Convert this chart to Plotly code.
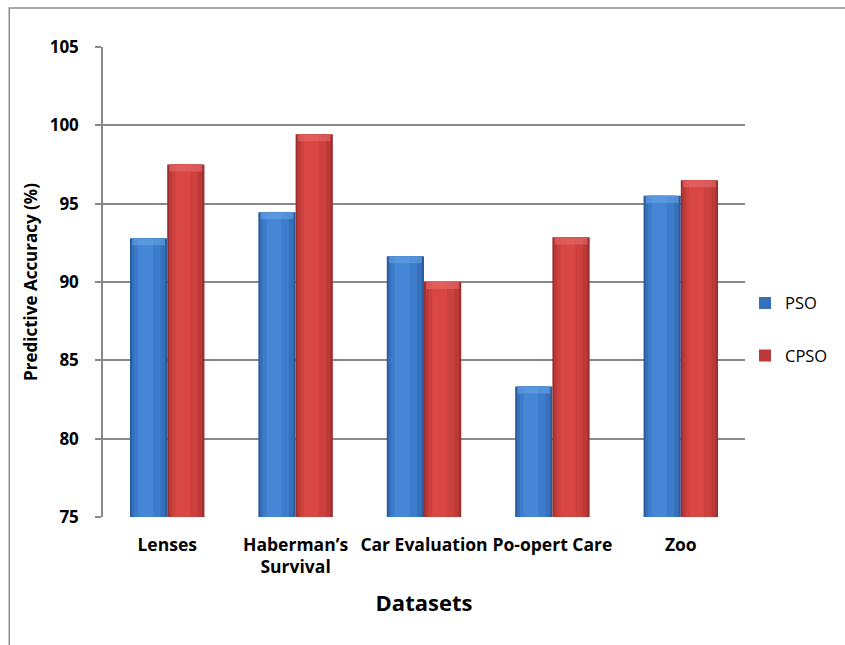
import plotly.graph_objects as go

# Predictive accuracy (%) of PSO and CPSO on five datasets
datasets = ["Lenses", "Haberman’s<br>Survival", "Car Evaluation", "Po-opert Care", "Zoo"]
pso = [92.8, 94.45, 91.65, 83.33, 95.5]
cpso = [97.5, 99.43, 90.0, 92.85, 96.5]
y_ticks = [75, 80, 85, 90, 95, 100, 105]

FONT = "Open Sans"
xpos = list(range(len(datasets)))
BAR_W = 0.29

# shading layers per series: (left inset, right inset, colour), dark edges to light centre
series = [
    ("PSO", pso, -BAR_W, "legend",
     [(0.0, 0.0, "#2b5c9e"), (0.05, 0.06, "#3570bb"), (0.12, 0.18, "#3d7cca"), (0.22, 0.38, "#4586d6")],
     "#6aa6e6"),
    ("CPSO", cpso, 0.0, "legend2",
     [(0.0, 0.0, "#9c2f2f"), (0.05, 0.06, "#bb3a38"), (0.12, 0.18, "#cc403e"), (0.22, 0.38, "#d84743")],
     "#ea7070"),
]

fig = go.Figure()
for name, vals, off, leg, layers, bevel in series:
    for k, (li, ri, col) in enumerate(layers):
        fig.add_trace(go.Bar(
            x=xpos, y=[v - 75 for v in vals], base=75,
            offset=off + BAR_W * li, width=BAR_W * (1 - li - ri),
            marker=dict(color=col, line=dict(width=0)),
            name=name, legend=leg, showlegend=(k == 1),
            hoverinfo="skip" if k else "y",
        ))
    # light bevel cap on top of each bar
    fig.add_trace(go.Bar(
        x=xpos, y=[0.45] * len(vals), base=[v - 0.45 for v in vals],
        offset=off + BAR_W * 0.06, width=BAR_W * 0.88,
        marker=dict(color=bevel, line=dict(width=0), opacity=0.55),
        showlegend=False, hoverinfo="skip",
    ))

grid = "#898989"
fig.update_layout(
    width=845, height=645,
    barmode="overlay",
    paper_bgcolor="white", plot_bgcolor="white",
    margin=dict(l=103, r=98, t=47, b=128),
    font=dict(family=FONT, color="black"),
    xaxis=dict(
        range=[-0.5, 4.5], tickvals=xpos, ticktext=datasets,
        showgrid=False, zeroline=False, showline=False, ticks="",
        tickfont=dict(family=FONT, size=17.5, color="black", weight="bold"),
        ticklabelstandoff=15,
        title=dict(text="Datasets", font=dict(family=FONT, size=22, color="black", weight="bold"),
                   standoff=18),
    ),
    yaxis=dict(
        range=[75, 105], tickvals=y_ticks,
        showgrid=True, gridcolor=grid, gridwidth=1.5,
        zeroline=False, showline=True, linecolor=grid, linewidth=1.5,
        ticks="outside", ticklen=6, tickcolor=grid, tickwidth=1.5,
        tickfont=dict(family=FONT, size=17, color="black", weight="bold"),
        ticklabelstandoff=13,
        title=dict(text="Predictive Accuracy (%)",
                   font=dict(family=FONT, size=17, color="black", weight="bold"), standoff=8),
    ),
    legend=dict(x=1.0, y=0.455, xanchor="left", yanchor="middle",
                font=dict(family=FONT, size=16.5, color="black"), bgcolor="rgba(0,0,0,0)",
                itemwidth=30),
    legend2=dict(x=1.0, y=0.343, xanchor="left", yanchor="middle",
                 font=dict(family=FONT, size=16.5, color="black"), bgcolor="rgba(0,0,0,0)",
                 itemwidth=30),
    shapes=[dict(type="rect", xref="paper", yref="paper",
                 x0=-0.146, y0=-0.4, x1=1.3, y1=1.083,
                 line=dict(color="#8a8a8a", width=1.5), fillcolor="rgba(0,0,0,0)", layer="below")],
)

fig.write_html("out.html")
